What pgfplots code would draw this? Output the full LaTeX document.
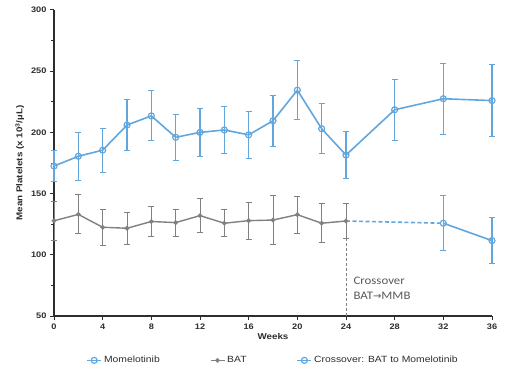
\documentclass[border=0pt]{standalone}
\usepackage{pgfplots}
\usepackage{pgfplotstable}
\pgfplotsset{compat=1.18}
\usepackage{fontspec}
\setmainfont{Liberation Sans}[FakeStretch=1.15]
\newfontfamily\calib{Carlito}[FakeStretch=1.12]
\newfontfamily\djv{DejaVu Sans}
\definecolor{mblue}{RGB}{98,166,222}
\definecolor{mfill}{RGB}{190,220,243}
\definecolor{bgrey}{RGB}{128,128,128}
\definecolor{axgrey}{RGB}{45,45,45}

\pgfplotstableread{
x y e
0 172.5 13
2 180.5 19.5
4 185.5 18
6 206 20.5
8 213.5 20.5
10 196 19
12 200 19.5
14 202 19.5
16 198 19
18 209.5 21
20 234.5 24
22 203 20.5
24 181.5 19
28 218.5 25
32 227.5 29
36 226 29.5
}\momtab

\pgfplotstableread{
x y e
0 127.8 16
2 133 16
4 122.5 14.5
6 121.7 13
8 127.2 12
10 126.3 11
12 132 14
14 125.8 11
16 127.9 15
18 128.4 20
20 132.8 15
22 125.8 16
24 127.6 14.5
}\battab

\pgfplotstableread{
x y e
32 125.8 22.5
36 111.6 19
}\crosstab

\pgfplotstableread{
x y
24 127.6
32 125.8
}\crossdash

\begin{document}
\begin{tikzpicture}
\begin{axis}[
  scale only axis, width=438pt, height=306pt,
  xmin=0, xmax=36, ymin=50, ymax=300,
  axis lines=left,
  axis line style={-, axgrey, line width=1.3pt},
  xtick={0,4,...,36}, ytick={50,100,...,300}, minor y tick num=1,
  tick align=outside,
  tick style={axgrey, line width=1pt},
  major tick length=4pt, minor tick length=3pt,
  ticklabel style={font=\fontsize{8}{9}\selectfont\bfseries, text=axgrey},
  /pgf/number format/assume math mode=true,
  xlabel={Weeks},
  ylabel={Mean Platelets (x 10\textsuperscript{3}/µL)},
  label style={font=\fontsize{8.5}{10}\selectfont\bfseries, text=axgrey},
  xlabel style={yshift=3pt},
  clip=false,
  legend columns=3,
  legend style={draw=none, fill=none, at={(0.5,-0.145)}, anchor=center,
    font=\fontsize{9}{10}\selectfont, text=axgrey,
    /tikz/every even column/.append style={column sep=48pt}},
  legend image code/.code={\draw[mark repeat=2,mark phase=2,#1] plot coordinates {(0pt,0pt)(7pt,0pt)(14pt,0pt)};},
]
% Momelotinib
\addplot[mblue, line width=1.6pt, mark=o, mark size=3pt,
  mark options={solid, fill=mfill, draw=mblue, line width=1.2pt},
  error bars/.cd, y dir=both, y explicit,
  error bar style={line width=1.1pt, mblue},
  error mark options={rotate=90, mblue, mark size=3pt, line width=1pt}]
  table[x=x, y=y, y error=e] {\momtab};
\addlegendentry{Momelotinib}
% BAT
\addplot[bgrey, line width=1.4pt, mark=*, mark size=1.6pt,
  mark options={solid, fill=bgrey, draw=bgrey},
  error bars/.cd, y dir=both, y explicit,
  error bar style={line width=1.0pt, bgrey},
  error mark options={rotate=90, bgrey, mark size=3pt, line width=1pt}]
  table[x=x, y=y, y error=e] {\battab};
\addlegendentry{BAT}
% Crossover
\addplot[mblue, line width=1.6pt, mark=o, mark size=3pt,
  mark options={solid, fill=mfill, draw=mblue, line width=1.2pt},
  error bars/.cd, y dir=both, y explicit,
  error bar style={line width=1.1pt, mblue},
  error mark options={rotate=90, mblue, mark size=3pt, line width=1pt}]
  table[x=x, y=y, y error=e] {\crosstab};
\addlegendentry{Crossover: BAT to Momelotinib}
\addplot[mblue, line width=1.6pt, dashed, dash pattern=on 4pt off 2.5pt, forget plot] table[x=x, y=y] {\crossdash};
\addplot[bgrey, line width=0.8pt, dash pattern=on 3pt off 2pt, forget plot] coordinates {(24,50) (24,127.6)};
\node[anchor=north west, align=left, font=\calib\fontsize{11.5}{15}\selectfont, text=black!65, inner sep=0pt]
  at (axis cs:24.6,82) {Crossover\\BAT{\djv\fontsize{10}{15}\selectfont →}MMB};
\end{axis}
\path[use as bounding box] (-54pt,-59pt) rectangle (456pt,316pt);
\end{tikzpicture}
\end{document}
